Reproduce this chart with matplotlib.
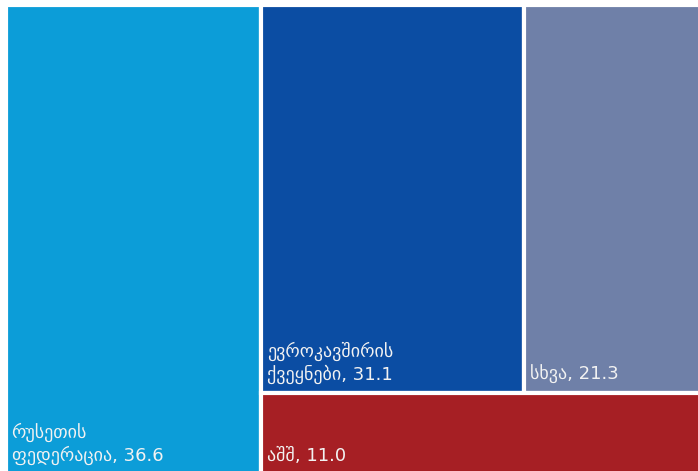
import matplotlib
matplotlib.use("Agg")
import matplotlib.pyplot as plt
from matplotlib.patches import Rectangle

# treemap data (share, %)
labels = ["რუსეთის\nფედერაცია", "ევროკავშირის\nქვეყნები", "სხვა", "აშშ"]
values = [36.6, 31.1, 21.3, 11.0]
colors = ["#0C9DD8", "#0B4DA3", "#6F80A8", "#A61F24"]

W, H = 100.0, 100.0
total = sum(values)

# first item takes full-height column, rest: top row (2,3) and bottom strip (4)
rects = []
w0 = W * values[0] / total
rects.append((0, 0, w0, H))
rest_w = W - w0
rest = sum(values[1:])
h_bottom = H * values[3] / rest
top_sum = values[1] + values[2]
w1 = rest_w * values[1] / top_sum
rects.append((w0, h_bottom, w1, H - h_bottom))
rects.append((w0 + w1, h_bottom, rest_w - w1, H - h_bottom))
rects.append((w0, 0, rest_w, h_bottom))

fig = plt.figure(figsize=(6.98, 4.71), dpi=100)
ax = fig.add_axes([6 / 698, -4 / 471, 698 / 698, 470 / 471])
ax.set_xlim(0, W)
ax.set_ylim(0, H)
ax.axis("off")

for (x, y, w, h), lab, v, c in zip(rects, labels, values, colors):
    ax.add_patch(Rectangle((x, y), w, h, facecolor=c, edgecolor="white", linewidth=3))
    ax.annotate(f"{lab}, {v:.1f}", (x, y), xytext=(4, 7), textcoords="offset points",
                ha="left", va="bottom", color="#F2F2F2", fontsize=13,
                family=["DejaVu Sans"], linespacing=1.25)

fig.savefig("out.png", dpi=100)
